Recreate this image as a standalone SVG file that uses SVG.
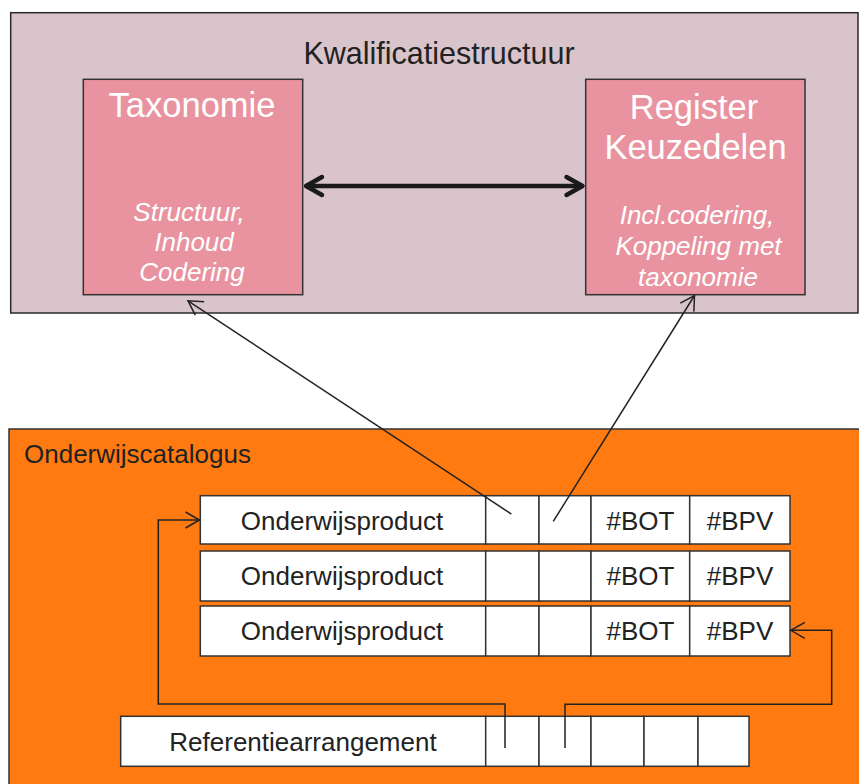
<svg xmlns="http://www.w3.org/2000/svg" width="859" height="784" viewBox="0 0 859 784">
<style>
text{font-family:"Liberation Sans",Arial,sans-serif}
.dark{fill:#222}
.wt{fill:#fff}
.it{fill:#fff;font-style:italic;font-size:26px}
.cell{fill:#fff;stroke:#333;stroke-width:1.5}
.t26{font-size:26px;fill:#222}
.conn{fill:none;stroke:#222;stroke-width:1.5}
</style>
<defs>
<marker id="open" markerUnits="userSpaceOnUse" markerWidth="40" markerHeight="40" viewBox="-20 -20 40 40" refX="0" refY="0" orient="auto-start-reverse" overflow="visible">
<path d="M-14,-8 L0,0 L-14,8" fill="none" stroke="#222" stroke-width="1.5"/>
</marker>
<marker id="thick" markerUnits="userSpaceOnUse" markerWidth="40" markerHeight="40" viewBox="-20 -20 40 40" refX="0" refY="0" orient="auto-start-reverse" overflow="visible">
<path d="M-16,-9 L0,0 L-16,9" fill="none" stroke="#1a1a1a" stroke-width="4.5" stroke-linecap="round" stroke-linejoin="round"/>
</marker>
</defs>

<g id="kwalificatiestructuur">
<rect x="10.7" y="12.7" width="847.3" height="300.3" fill="#D9C4CB" stroke="#2a2a2a" stroke-width="1.5"/>
<text x="439" y="64" font-size="30.5" text-anchor="middle" class="dark">Kwalificatiestructuur</text>
</g>

<g id="taxonomie">
<rect x="83.3" y="79.3" width="219.4" height="215.4" fill="#E8939F" stroke="#333" stroke-width="1.5"/>
<text x="192" y="117" font-size="34.5" text-anchor="middle" class="wt">Taxonomie</text>
<text x="189" y="220.5" text-anchor="middle" class="it">Structuur,</text>
<text x="194" y="250.5" text-anchor="middle" class="it">Inhoud</text>
<text x="192" y="281" text-anchor="middle" class="it">Codering</text>
</g>

<g id="register">
<rect x="585.7" y="79.3" width="219.3" height="215.4" fill="#E8939F" stroke="#333" stroke-width="1.5"/>
<text x="694" y="119" font-size="34.5" text-anchor="middle" class="wt">Register</text>
<text x="695.5" y="159" font-size="34.5" text-anchor="middle" class="wt">Keuzedelen</text>
<text x="697" y="224" text-anchor="middle" class="it">Incl.codering,</text>
<text x="698.5" y="255" text-anchor="middle" class="it">Koppeling met</text>
<text x="698" y="285.5" text-anchor="middle" class="it">taxonomie</text>
</g>

<g id="onderwijscatalogus">
<rect x="9" y="429" width="860" height="370" fill="#FF7A10" stroke="#333" stroke-width="1.5"/>
<text x="24" y="463" class="t26">Onderwijscatalogus</text>
</g>

<g id="onderwijsproduct-1">
<rect class="cell" x="200.3" y="495.7" width="285.4" height="48.3"/>
<rect class="cell" x="485.7" y="495.7" width="53.3" height="48.3"/>
<rect class="cell" x="539" y="495.7" width="52" height="48.3"/>
<rect class="cell" x="591" y="495.7" width="98.7" height="48.3"/>
<rect class="cell" x="689.7" y="495.7" width="100.3" height="48.3"/>
<text x="342" y="530" text-anchor="middle" class="t26">Onderwijsproduct</text>
<text x="640.5" y="530" text-anchor="middle" class="t26">#BOT</text>
<text x="740" y="530" text-anchor="middle" class="t26">#BPV</text>
</g>

<g id="onderwijsproduct-2">
<rect class="cell" x="200.3" y="551" width="285.4" height="50"/>
<rect class="cell" x="485.7" y="551" width="53.3" height="50"/>
<rect class="cell" x="539" y="551" width="52" height="50"/>
<rect class="cell" x="591" y="551" width="98.7" height="50"/>
<rect class="cell" x="689.7" y="551" width="100.3" height="50"/>
<text x="342" y="585" text-anchor="middle" class="t26">Onderwijsproduct</text>
<text x="640.5" y="585" text-anchor="middle" class="t26">#BOT</text>
<text x="740" y="585" text-anchor="middle" class="t26">#BPV</text>
</g>

<g id="onderwijsproduct-3">
<rect class="cell" x="200.3" y="606" width="285.4" height="50"/>
<rect class="cell" x="485.7" y="606" width="53.3" height="50"/>
<rect class="cell" x="539" y="606" width="52" height="50"/>
<rect class="cell" x="591" y="606" width="98.7" height="50"/>
<rect class="cell" x="689.7" y="606" width="100.3" height="50"/>
<text x="342" y="640" text-anchor="middle" class="t26">Onderwijsproduct</text>
<text x="640.5" y="640" text-anchor="middle" class="t26">#BOT</text>
<text x="740" y="640" text-anchor="middle" class="t26">#BPV</text>
</g>

<g id="referentiearrangement">
<rect class="cell" x="120.7" y="716.3" width="365" height="50"/>
<rect class="cell" x="485.7" y="716.3" width="53.3" height="50"/>
<rect class="cell" x="539" y="716.3" width="52" height="50"/>
<rect class="cell" x="591" y="716.3" width="53" height="50"/>
<rect class="cell" x="644" y="716.3" width="54" height="50"/>
<rect class="cell" x="698" y="716.3" width="51" height="50"/>
<text x="303" y="750.7" text-anchor="middle" class="t26">Referentiearrangement</text>
</g>

<g id="connectors">
<line x1="306" y1="186" x2="582.5" y2="186" stroke="#1a1a1a" stroke-width="4.5" marker-start="url(#thick)" marker-end="url(#thick)"/>
<line class="conn" x1="511.3" y1="514" x2="188" y2="300.8" marker-end="url(#open)"/>
<line class="conn" x1="553.3" y1="521.3" x2="694.5" y2="295.5" marker-end="url(#open)"/>
<path class="conn" d="M505,748 V704 H158.3 V520 H199.5" marker-end="url(#open)"/>
<path class="conn" d="M565,748 V704.3 H831.7 V630.3 H790.8" marker-end="url(#open)"/>
</g>
</svg>
